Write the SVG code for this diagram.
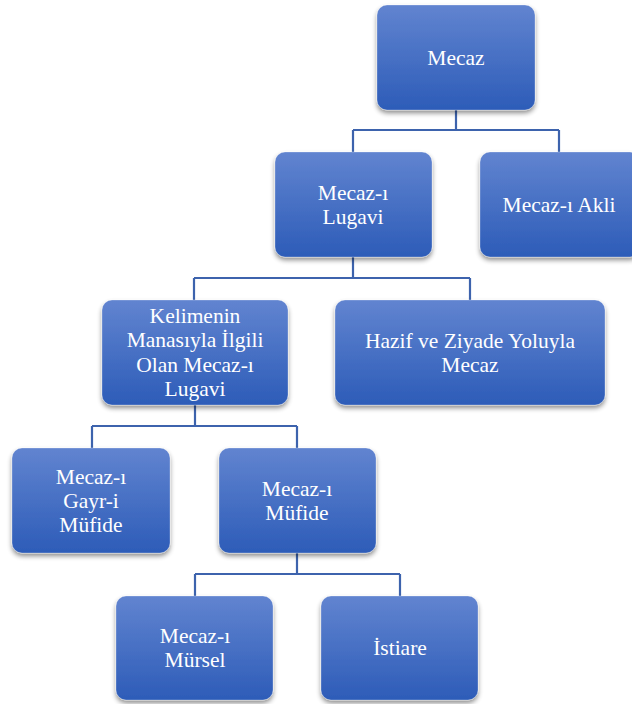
<svg xmlns="http://www.w3.org/2000/svg" width="632" height="704" viewBox="0 0 632 704">
  <defs>
    <linearGradient id="boxFill" x1="0" y1="0" x2="0" y2="1">
      <stop offset="0" stop-color="#6184d0"/>
      <stop offset="1" stop-color="#2d5cb8"/>
    </linearGradient>
    <filter id="shadow" x="-10%" y="-10%" width="125%" height="130%">
      <feGaussianBlur in="SourceAlpha" stdDeviation="2.5"/>
      <feOffset dx="0" dy="3" result="b"/>
      <feComponentTransfer><feFuncA type="linear" slope="0.45"/></feComponentTransfer>
      <feMerge><feMergeNode/><feMergeNode in="SourceGraphic"/></feMerge>
    </filter>
    <style>
      .box { fill: url(#boxFill); stroke: #ffffff; stroke-opacity: 0.35; stroke-width: 0.8; filter: url(#shadow); }
      .lbl { fill: #ffffff; font-family: 'Times New Roman', 'Liberation Serif', 'DejaVu Serif', serif; font-size: 21.5px; text-anchor: middle; }
      .conn { fill: none; stroke: #3d63ad; stroke-width: 2.2; }
    </style>
  </defs>
  <rect width="632" height="704" fill="#ffffff"/>

  <g id="connectors">
    <path class="conn" d="M456 110 V130 M353 130 H559 M353 130 V152 M559 130 V152"/>
    <path class="conn" d="M353 257 V278 M194 278 H470 M194 278 V300 M470 278 V300"/>
    <path class="conn" d="M195 405 V426 M92 426 H297 M92 426 V448 M297 426 V448"/>
    <path class="conn" d="M297 553 V574 M195 574 H400 M195 574 V596 M400 574 V596"/>
  </g>

  <g id="mecaz">
    <rect class="box" x="377" y="5" width="158" height="105" rx="10"/>
    <text class="lbl" x="456" y="65">Mecaz</text>
  </g>
  <g id="mecaz-lugavi">
    <rect class="box" x="275" y="152" width="157" height="105" rx="10"/>
    <text class="lbl" x="353" y="200">Mecaz-ı</text>
    <text class="lbl" x="353" y="224">Lugavi</text>
  </g>
  <g id="mecaz-akli">
    <rect class="box" x="480" y="152" width="160" height="105" rx="10"/>
    <text class="lbl" x="559" y="212">Mecaz-ı Akli</text>
  </g>
  <g id="kelimenin-manasiyla">
    <rect class="box" x="102" y="300" width="186" height="105" rx="10"/>
    <text class="lbl" x="195" y="323">Kelimenin</text>
    <text class="lbl" x="195" y="347">Manasıyla İlgili</text>
    <text class="lbl" x="195" y="372">Olan Mecaz-ı</text>
    <text class="lbl" x="195" y="396">Lugavi</text>
  </g>
  <g id="hazif-ziyade">
    <rect class="box" x="335" y="300" width="270" height="105" rx="10"/>
    <text class="lbl" x="470" y="348">Hazif ve Ziyade Yoluyla</text>
    <text class="lbl" x="470" y="372">Mecaz</text>
  </g>
  <g id="gayr-i-mufide">
    <rect class="box" x="12" y="448" width="158" height="105" rx="10"/>
    <text class="lbl" x="91" y="484">Mecaz-ı</text>
    <text class="lbl" x="91" y="508">Gayr-i</text>
    <text class="lbl" x="91" y="532">Müfide</text>
  </g>
  <g id="mufide">
    <rect class="box" x="219" y="448" width="157" height="105" rx="10"/>
    <text class="lbl" x="297" y="496">Mecaz-ı</text>
    <text class="lbl" x="297" y="520">Müfide</text>
  </g>
  <g id="mursel">
    <rect class="box" x="116" y="596" width="157" height="104" rx="10"/>
    <text class="lbl" x="195" y="643">Mecaz-ı</text>
    <text class="lbl" x="195" y="667">Mürsel</text>
  </g>
  <g id="istiare">
    <rect class="box" x="321" y="596" width="157" height="104" rx="10"/>
    <text class="lbl" x="400" y="655">İstiare</text>
  </g>
</svg>
